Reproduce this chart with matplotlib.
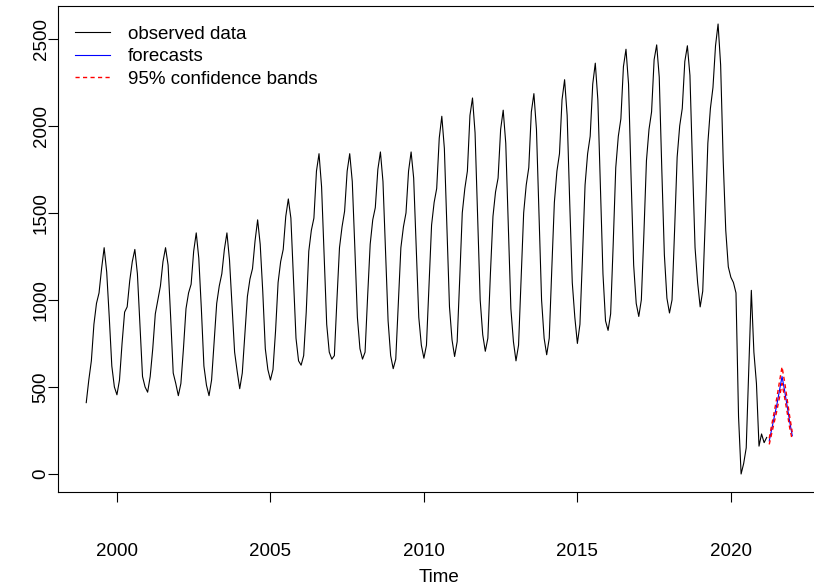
import numpy as np
import matplotlib.pyplot as plt

plt.rcParams['font.family'] = ['Liberation Sans', 'DejaVu Sans']

obs_1999 = [410, 540, 650, 860, 980, 1040, 1180, 1300, 1160, 900, 620, 500]
obs_2000 = [455, 540, 750, 930, 960, 1110, 1220, 1290, 1150, 850, 560, 500]
obs_2001 = [470, 560, 720, 920, 1000, 1080, 1220, 1300, 1200, 900, 580, 520]
obs_2002 = [450, 520, 720, 950, 1040, 1090, 1280, 1385, 1240, 950, 620, 510]
obs_2003 = [450, 540, 760, 980, 1080, 1150, 1290, 1385, 1230, 960, 700, 590]
obs_2004 = [490, 580, 800, 1020, 1120, 1180, 1340, 1460, 1320, 1050, 720, 600]
obs_2005 = [540, 600, 820, 1100, 1220, 1290, 1480, 1580, 1470, 1130, 780, 650]
obs_2006 = [625, 680, 930, 1280, 1400, 1470, 1740, 1840, 1650, 1260, 860, 700]
obs_2007 = [660, 680, 1000, 1300, 1420, 1510, 1740, 1840, 1680, 1300, 900, 720]
obs_2008 = [660, 700, 1020, 1320, 1460, 1530, 1750, 1850, 1680, 1280, 880, 680]
obs_2009 = [605, 660, 980, 1300, 1420, 1500, 1740, 1850, 1700, 1300, 900, 740]
obs_2010 = [665, 740, 1080, 1430, 1560, 1640, 1930, 2055, 1870, 1420, 960, 770]
obs_2011 = [675, 760, 1120, 1500, 1640, 1740, 2060, 2160, 1960, 1480, 1000, 800]
obs_2012 = [705, 780, 1150, 1480, 1620, 1700, 1980, 2090, 1900, 1420, 950, 760]
obs_2013 = [650, 740, 1120, 1500, 1660, 1760, 2080, 2185, 1980, 1480, 1000, 780]
obs_2014 = [685, 780, 1180, 1560, 1740, 1840, 2150, 2265, 2060, 1560, 1100, 900]
obs_2015 = [750, 860, 1250, 1660, 1840, 1940, 2240, 2360, 2150, 1640, 1150, 880]
obs_2016 = [825, 920, 1320, 1760, 1940, 2040, 2340, 2440, 2240, 1700, 1200, 980]
obs_2017 = [905, 1000, 1380, 1800, 1980, 2080, 2380, 2465, 2280, 1750, 1260, 1010]
obs_2018 = [925, 1000, 1400, 1820, 2000, 2100, 2370, 2460, 2290, 1780, 1300, 1100]
obs_2019 = [960, 1050, 1460, 1900, 2100, 2220, 2460, 2585, 2350, 1800, 1400, 1190]
obs_2020 = [1130, 1100, 1040, 330, 0, 60, 150, 600, 1055, 700, 520, 160]
obs_2021 = [230, 180, 210]

# forecasts Apr 2021 - Jan 2022 with 95% bands
fc = [190, 260, 330, 400, 480, 560, 480, 390, 300, 220]
fc_lo = [170, 235, 300, 365, 440, 520, 440, 355, 265, 195]
fc_hi = [205, 285, 360, 440, 530, 615, 530, 430, 330, 240]

observed = (obs_1999 + obs_2000 + obs_2001 + obs_2002 + obs_2003 + obs_2004 +
            obs_2005 + obs_2006 + obs_2007 + obs_2008 + obs_2009 + obs_2010 +
            obs_2011 + obs_2012 + obs_2013 + obs_2014 + obs_2015 + obs_2016 +
            obs_2017 + obs_2018 + obs_2019 + obs_2020 + obs_2021)
t_obs = 1999 + np.arange(len(observed)) / 12
t_fc = t_obs[-1] + (np.arange(len(fc)) + 1) / 12

# plot region runs past the right edge of the picture (cropped, like the original)
fig = plt.figure(figsize=(8.14, 5.86), dpi=100)
ax = fig.add_axes([58 / 814, 1 - 492 / 586, 762.5 / 814, 486 / 586])

dash = (0, (3, 2.4))
ax.plot(t_obs, observed, color='black', lw=0.8, label='observed data')
ax.plot(t_fc, fc, color='blue', lw=0.8, label='forecasts')
ax.plot(t_fc, fc_lo, color='red', lw=1.0, ls=dash, label='95% confidence bands')
ax.plot(t_fc, fc_hi, color='red', lw=1.0, ls=dash)

xmin, xmax = 1999.0, t_fc[-1]
xpad = 0.04 * (xmax - xmin)
ax.set_xlim(xmin - xpad, xmax + xpad)
ymax = 2585
ax.set_ylim(-0.04 * ymax, ymax * 1.04)

ax.set_xticks([2000, 2005, 2010, 2015, 2020])
ax.set_yticks([0, 500, 1000, 1500, 2000, 2500])
ax.tick_params(direction='out', length=7, width=0.8, labelsize=13.5)
ax.tick_params(axis='x', pad=30)
ax.tick_params(axis='y', pad=-1)
for lab in ax.get_yticklabels():
    lab.set_rotation(90)
    lab.set_va('center')
ax.set_xlabel('Time', fontsize=13.5, labelpad=6)
for s in ax.spines.values():
    s.set_linewidth(0.8)

h, l = ax.get_legend_handles_labels()
ax.legend(h, l, loc='upper left', bbox_to_anchor=(0.0, 0.994), frameon=False,
          fontsize=13.5, handlelength=1.87, labelspacing=0.29, handletextpad=0.96,
          borderaxespad=0.5)

fig.savefig('out.png', dpi=100)
